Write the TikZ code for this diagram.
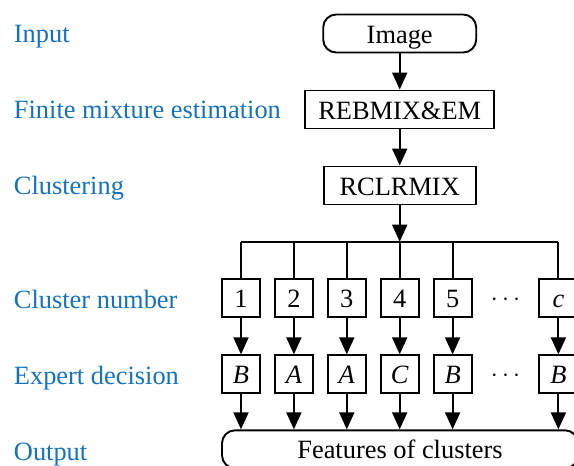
\documentclass[tikz,border=0pt]{standalone}
\usepackage{fontspec}
\setmainfont{Liberation Serif}
\usetikzlibrary{arrows.meta,positioning}
\definecolor{stageblue}{RGB}{20,114,190}

\begin{document}
\begin{tikzpicture}[
                    x=1pt, y=1pt,
                    node distance=76pt,
                    >={Triangle[length=17pt,width=15pt]},
                    line width=1.9pt,
                    font=\fontsize{26.4}{30}\selectfont,
                    block/.style={draw, rectangle, minimum height=38pt, inner sep=0pt, text height=25pt, text depth=6pt},
                    term/.style={block, rounded corners=13pt},
                    cell/.style={block, minimum width=38pt},
                    stage/.style={text=stageblue, anchor=base west, inner sep=0pt}
                    ]
    \useasboundingbox (0,0) rectangle (574,-466);

    % stage labels
    \node [stage] (l1) at (13,-42.7) {Input};
    \node [stage] (l2) at (13,-118.7) {Finite mixture estimation};
    \node [stage] (l3) at (13,-194.7) {Clustering};
    \node [stage] (l4) at (13,-308) {Cluster number};
    \node [stage] (l5) at (13,-384) {Expert decision};
    \node [stage] (l6) at (13,-460) {Output};

    % main chain
    \node [term, minimum width=153pt] (image) at (399.7,-33.5) {Image};
    \node [block, minimum width=189pt, below of = image] (rebmix) {REBMIX\&EM};
    \node [block, minimum width=152pt, below of = rebmix] (rclrmix) {RCLRMIX};
    \coordinate (split) at (399.7,-241.7);

    \draw[->] (image) -- (rebmix);
    \draw[->] (rebmix) -- (rclrmix);
    \draw[->] (rclrmix) -- (split);

    % clusters and decisions
    \foreach \i/\num/\dec in {1/1/B, 2/2/A, 3/3/A, 4/4/C, 5/5/B, 7/\textit{c}/B} {
        \node [cell] (n\i) at ({241+52.9*(\i-1)},-298.3) {\num};
        \node [cell, below of = n\i] (d\i) {\textit{\dec}};
    }
    \node (ndots) at ({241+52.9*5},-300) {$\cdots$};
    \node (ddots) at ({241+52.9*5},-376) {$\cdots$};

    \node [term, minimum width=356pt] (out) at (400,-449.3) {Features of clusters};

    \draw (split -| n1) -- (split -| n7);
    \foreach \i in {1,2,3,4,5,7} {
        \draw (split -| n\i) -- (n\i);
        \draw[->] (n\i) -- (d\i);
        \draw[->] (d\i) -- (d\i |- out.north);
    }
\end{tikzpicture}
\end{document}
